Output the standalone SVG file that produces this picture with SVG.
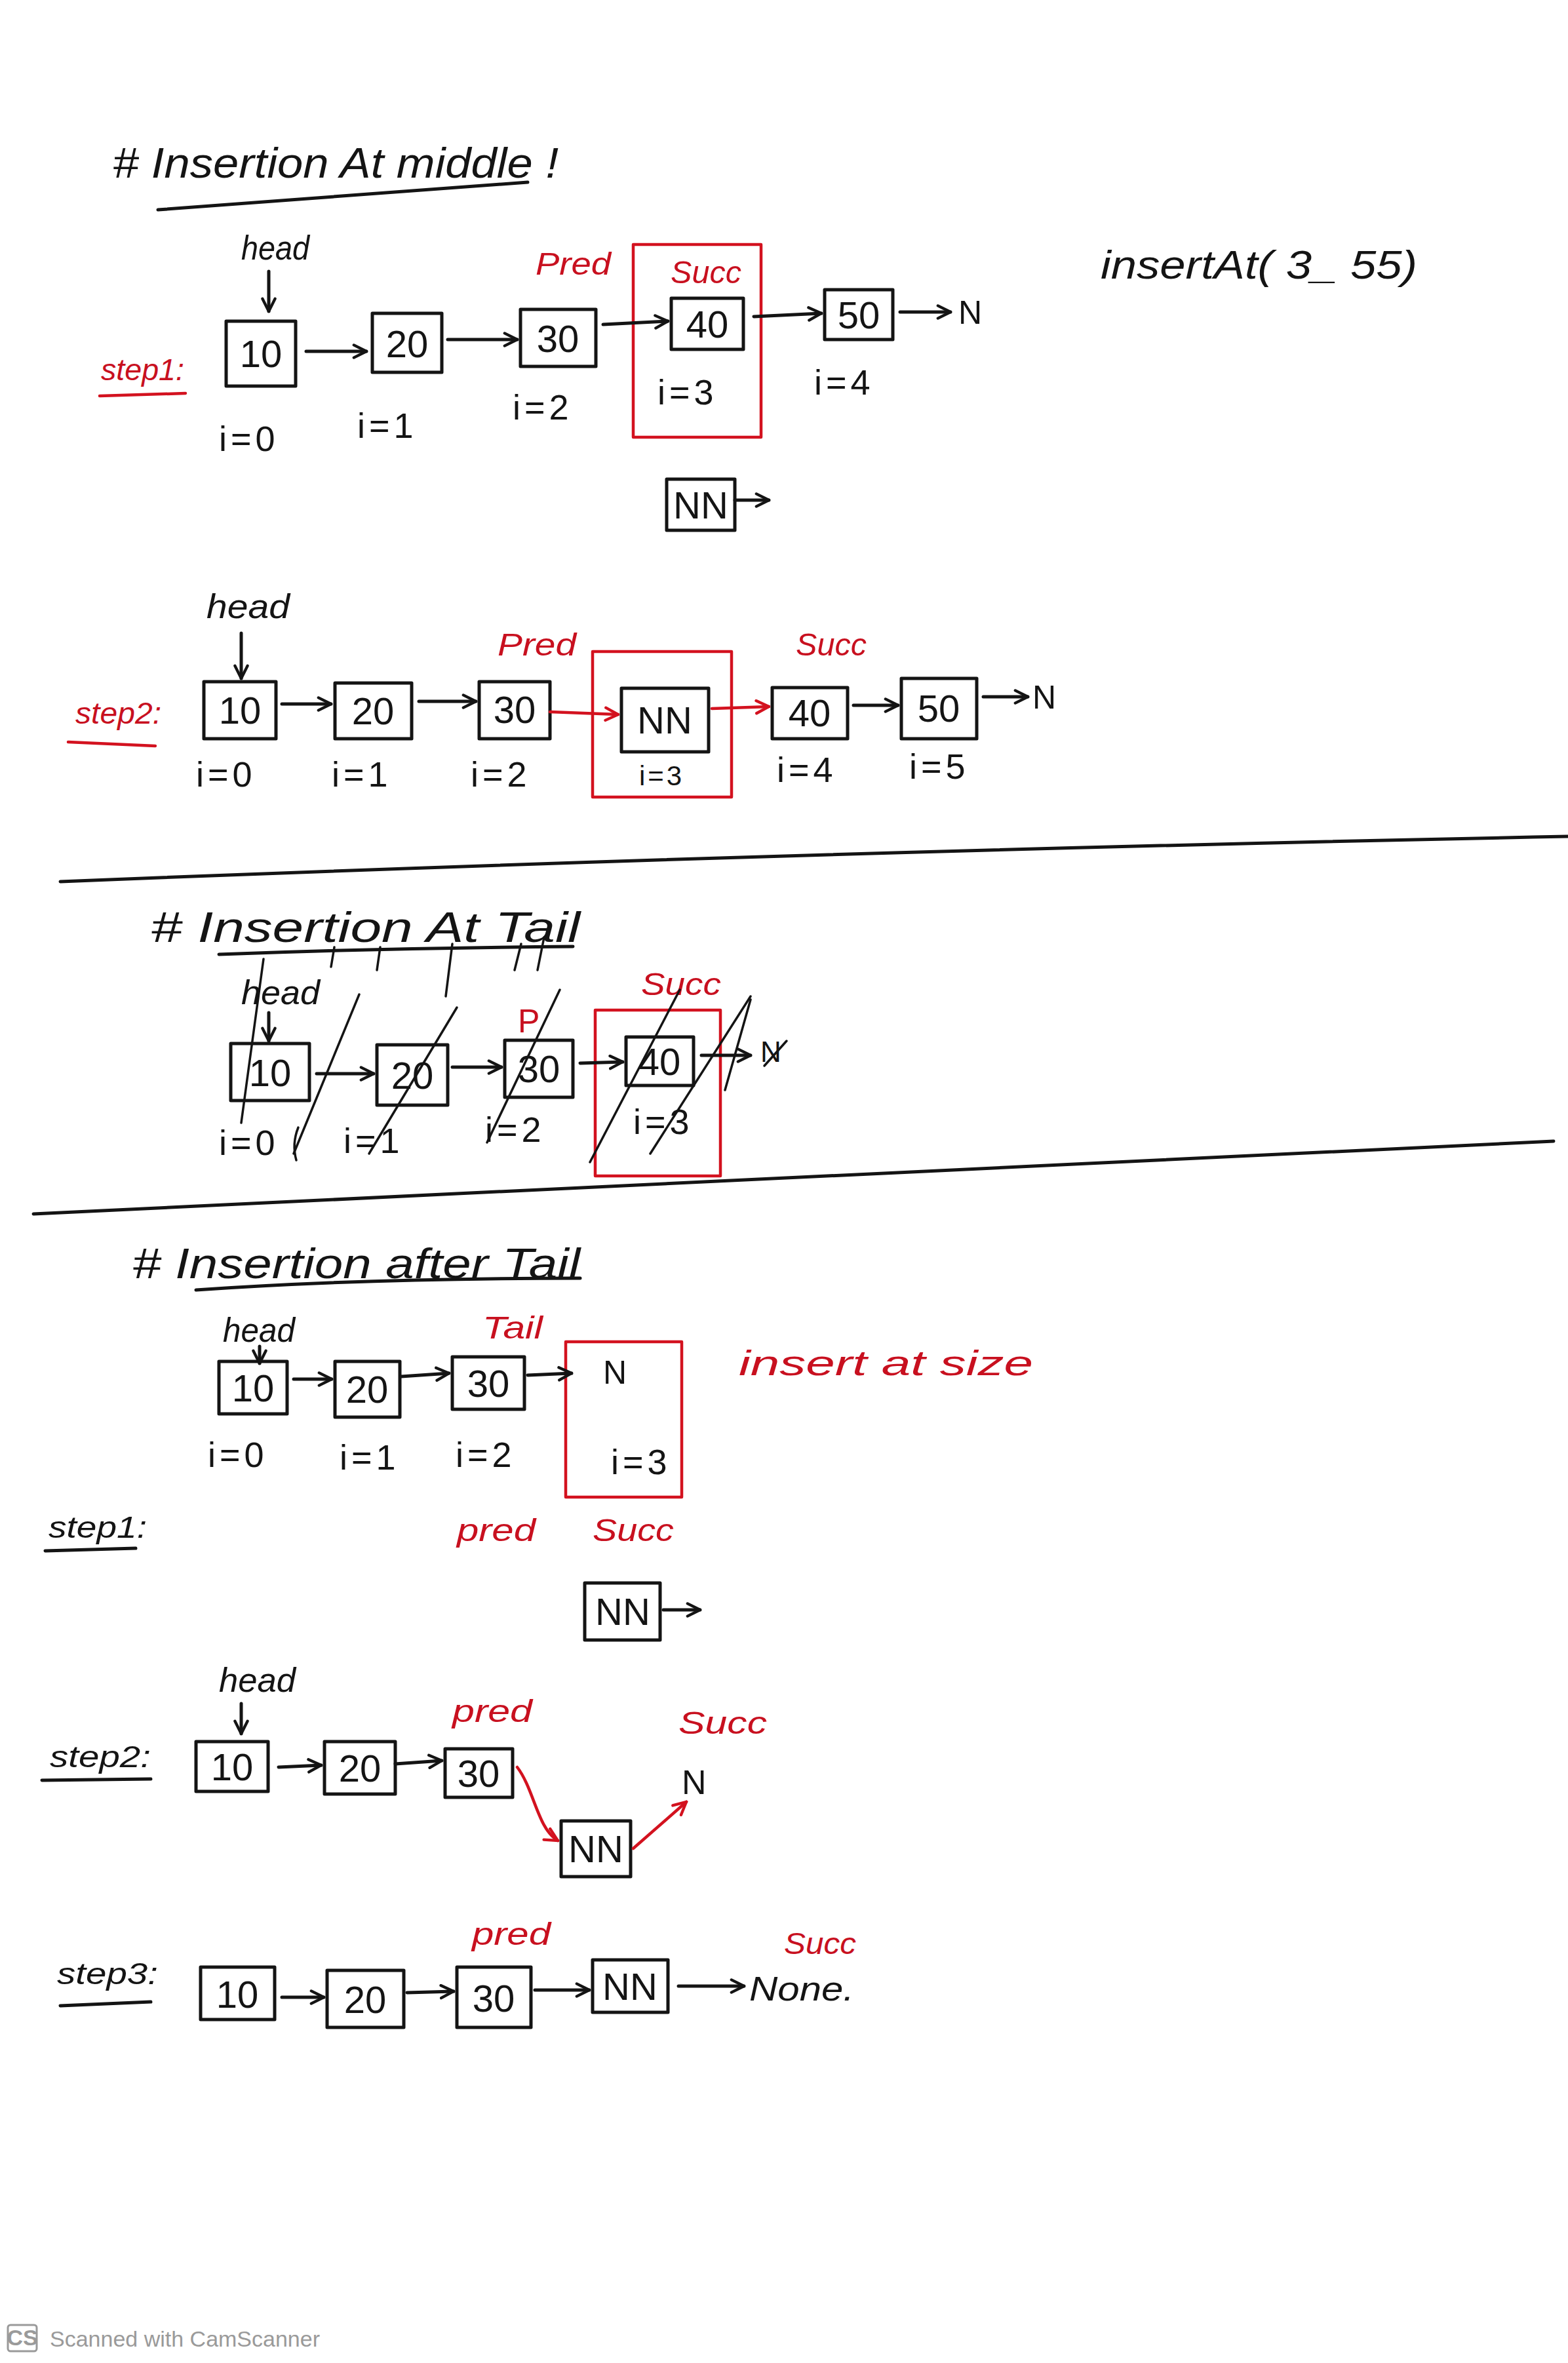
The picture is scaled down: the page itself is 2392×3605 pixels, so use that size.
<svg xmlns="http://www.w3.org/2000/svg" width="2392" height="3605" viewBox="0 0 2392 3605">
<defs>
<style>
.bx{fill:none;stroke:#141414;stroke-width:5;stroke-linejoin:round}
.rbx{fill:none;stroke:#d3121f;stroke-width:4.5;stroke-linejoin:round}
.ln{fill:none;stroke:#141414;stroke-width:5;stroke-linecap:round}
.rl{fill:none;stroke:#d3121f;stroke-width:4.5;stroke-linecap:round}
.sk{fill:none;stroke:#141414;stroke-width:3.5;stroke-linecap:round}
.t{font-family:"Liberation Sans",Arial,sans-serif;fill:#141414}
.r{fill:#c8101f}
.v{font-size:58px;text-anchor:middle}
.h{font-size:52px;font-style:italic}
.i{font-size:54px;letter-spacing:6px}
.ti{font-size:64px;font-style:italic}
.ft{font-family:"Liberation Sans",Arial,sans-serif;fill:#9a9a9a;font-size:34px}
</style>
<marker id="ah" viewBox="0 0 10 10" refX="9" refY="5" markerWidth="24" markerHeight="24" markerUnits="userSpaceOnUse" orient="auto"><path d="M1,1 L9,5 L1,9" fill="none" stroke="#141414" stroke-width="1.8" stroke-linecap="round"/></marker>
<marker id="ar" viewBox="0 0 10 10" refX="9" refY="5" markerWidth="24" markerHeight="24" markerUnits="userSpaceOnUse" orient="auto"><path d="M1,1 L9,5 L1,9" fill="none" stroke="#d3121f" stroke-width="1.8" stroke-linecap="round"/></marker>
</defs>
<rect x="0" y="0" width="2392" height="3605" fill="#ffffff"/>

<!-- ===== Section 1: Insertion At middle ===== -->
<g id="title1">
<text class="t ti" x="172" y="271" textLength="680" lengthAdjust="spacingAndGlyphs"># Insertion At middle !</text>
<path class="ln" d="M241 320 Q520 300 805 278"/>
</g>
<g id="insertAt-label"><text class="t" x="1679" y="425" font-size="62" font-style="italic" textLength="483" lengthAdjust="spacingAndGlyphs">insertAt( 3_ 55)</text></g>

<!-- step 1 -->
<g id="s1-step1"><text class="t r" x="154" y="580" font-size="46" font-style="italic" textLength="127" lengthAdjust="spacingAndGlyphs">step1:</text><path class="rl" d="M152 604 L283 600"/></g>
<g id="s1-head"><text class="t h" x="368" y="396" textLength="104" lengthAdjust="spacingAndGlyphs">head</text></g>
<g id="s1-n10"><rect class="bx" x="345" y="490" width="106" height="99"/><text class="t v" x="398" y="560">10</text></g>
<g id="s1-n20"><rect class="bx" x="568" y="478" width="106" height="90"/><text class="t v" x="621" y="545">20</text></g>
<g id="s1-n30"><rect class="bx" x="794" y="472" width="115" height="87"/><text class="t v" x="851" y="537">30</text></g>
<g id="s1-succbox"><rect class="rbx" x="966" y="373" width="195" height="294"/><text class="t r" x="1023" y="432" font-size="48" font-style="italic" textLength="108" lengthAdjust="spacingAndGlyphs">Succ</text><text class="t i" x="1003" y="617">i=3</text></g>
<g id="s1-n40"><rect class="bx" x="1024" y="455" width="110" height="78"/><text class="t v" x="1079" y="515">40</text></g>
<g id="s1-n50"><rect class="bx" x="1258" y="442" width="104" height="76"/><text class="t v" x="1310" y="501">50</text></g>
<g id="s1-N"><text class="t" x="1462" y="494" font-size="50">N</text></g>
<g id="s1-pred"><text class="t r" x="817" y="419" font-size="48" font-style="italic" textLength="115" lengthAdjust="spacingAndGlyphs">Pred</text></g>
<g id="s1-idx">
<text class="t i" x="334" y="688">i=0</text>
<text class="t i" x="545" y="668">i=1</text>
<text class="t i" x="782" y="640">i=2</text>
<text class="t i" x="1242" y="602">i=4</text>
</g>
<g id="s1-NN"><rect class="bx" x="1017" y="731" width="104" height="78"/><text class="t v" x="1069" y="791">NN</text></g>

<!-- step 2 -->
<g id="s2-step2"><text class="t r" x="115" y="1104" font-size="46" font-style="italic" textLength="131" lengthAdjust="spacingAndGlyphs">step2:</text><path class="rl" d="M104 1132 L237 1138"/></g>
<g id="s2-head"><text class="t h" x="315" y="943" textLength="127" lengthAdjust="spacingAndGlyphs">head</text></g>
<g id="s2-n10"><rect class="bx" x="311" y="1040" width="110" height="87"/><text class="t v" x="366" y="1104">10</text></g>
<g id="s2-n20"><rect class="bx" x="511" y="1042" width="117" height="85"/><text class="t v" x="569" y="1105">20</text></g>
<g id="s2-n30"><rect class="bx" x="731" y="1040" width="108" height="87"/><text class="t v" x="785" y="1103">30</text></g>
<g id="s2-pred"><text class="t r" x="759" y="1000" font-size="48" font-style="italic" textLength="120" lengthAdjust="spacingAndGlyphs">Pred</text></g>
<g id="s2-nnbox"><rect class="rbx" x="904" y="994" width="212" height="222"/><text class="t" x="975" y="1198" font-size="42" letter-spacing="4">i=3</text></g>
<g id="s2-NN"><rect class="bx" x="948" y="1050" width="133" height="97"/><text class="t v" x="1014" y="1119">NN</text></g>
<g id="s2-succ"><text class="t r" x="1214" y="1000" font-size="48" font-style="italic" textLength="108" lengthAdjust="spacingAndGlyphs">Succ</text></g>
<g id="s2-n40"><rect class="bx" x="1178" y="1049" width="115" height="78"/><text class="t v" x="1235" y="1108">40</text></g>
<g id="s2-n50"><rect class="bx" x="1375" y="1035" width="115" height="92"/><text class="t v" x="1432" y="1101">50</text></g>
<g id="s2-N"><text class="t" x="1575" y="1081" font-size="50">N</text></g>
<g id="s2-idx">
<text class="t i" x="299" y="1200">i=0</text>
<text class="t i" x="506" y="1200">i=1</text>
<text class="t i" x="718" y="1200">i=2</text>
<text class="t i" x="1185" y="1193">i=4</text>
<text class="t i" x="1387" y="1188">i=5</text>
</g>

<g id="divider1"><path class="ln" d="M92 1345 Q1200 1300 2392 1276" stroke-width="3.5"/></g>

<!-- ===== Section 2: Insertion At Tail (crossed out) ===== -->
<g id="title2">
<text class="t ti" x="230" y="1437" textLength="655" lengthAdjust="spacingAndGlyphs"># Insertion At Tail</text>
<path class="ln" d="M334 1456 Q600 1446 874 1444"/>
</g>
<g id="t2-head"><text class="t h" x="368" y="1532" textLength="120" lengthAdjust="spacingAndGlyphs">head</text></g>
<g id="t2-n10"><rect class="bx" x="352" y="1592" width="120" height="87"/><text class="t v" x="412" y="1657">10</text></g>
<g id="t2-n20"><rect class="bx" x="575" y="1594" width="108" height="92"/><text class="t v" x="629" y="1661">20</text></g>
<g id="t2-n30"><rect class="bx" x="770" y="1587" width="104" height="87"/><text class="t v" x="822" y="1651">30</text></g>
<g id="t2-p"><text class="t r" x="790" y="1575" font-size="50">P</text></g>
<g id="t2-succbox"><rect class="rbx" x="908" y="1541" width="191" height="253"/><text class="t r" x="978" y="1518" font-size="48" font-style="italic" textLength="122" lengthAdjust="spacingAndGlyphs">Succ</text><text class="t i" x="966" y="1730">i=3</text></g>
<g id="t2-n40"><rect class="bx" x="955" y="1582" width="103" height="74"/><text class="t v" x="1006" y="1640">40</text></g>
<g id="t2-N"><text class="t" x="1160" y="1620" font-size="44">N</text></g>
<g id="t2-idx">
<text class="t i" x="334" y="1762">i=0</text>
<text class="t i" x="524" y="1759">i=1</text>
<text class="t i" x="740" y="1742">i=2</text>
</g>
<g id="t2-strikes">
<path class="sk" d="M402 1463 L368 1713"/>
<path class="sk" d="M548 1517 L448 1760"/>
<path class="sk" d="M455 1720 Q445 1745 452 1770"/>
<path class="sk" d="M697 1537 L563 1760"/>
<path class="sk" d="M854 1510 L743 1743"/>
<path class="sk" d="M1037 1510 L900 1773"/>
<path class="sk" d="M1145 1520 L992 1760"/>
<path class="sk" d="M1145 1525 L1106 1663"/>
<path class="sk" d="M1200 1588 L1166 1626"/>
<path class="sk" d="M510 1445 L505 1475"/>
<path class="sk" d="M580 1445 L575 1480"/>
<path class="sk" d="M690 1440 L680 1520"/>
<path class="sk" d="M795 1440 L785 1480"/>
<path class="sk" d="M830 1430 L820 1480"/>
</g>

<g id="divider2"><path class="ln" d="M51 1852 Q1200 1800 2370 1741" stroke-width="3.5"/></g>

<!-- ===== Section 3: Insertion after Tail ===== -->
<g id="title3">
<text class="t ti" x="202" y="1950" textLength="683" lengthAdjust="spacingAndGlyphs"># Insertion after Tail</text>
<path class="ln" d="M299 1968 Q560 1950 885 1950"/>
</g>
<g id="a-head"><text class="t h" x="340" y="2047" textLength="110" lengthAdjust="spacingAndGlyphs">head</text></g>
<g id="a-n10"><rect class="bx" x="334" y="2077" width="104" height="80"/><text class="t v" x="386" y="2138">10</text></g>
<g id="a-n20"><rect class="bx" x="511" y="2077" width="99" height="85"/><text class="t v" x="560" y="2140">20</text></g>
<g id="a-n30"><rect class="bx" x="690" y="2070" width="110" height="80"/><text class="t v" x="745" y="2131">30</text></g>
<g id="a-tail"><text class="t r" x="736" y="2042" font-size="48" font-style="italic" textLength="92" lengthAdjust="spacingAndGlyphs">Tail</text></g>
<g id="a-nbox"><rect class="rbx" x="863" y="2047" width="177" height="237"/><text class="t" x="920" y="2111" font-size="50">N</text><text class="t i" x="932" y="2249">i=3</text></g>
<g id="a-size"><text class="t r" x="1127" y="2098" font-size="54" font-style="italic" textLength="449" lengthAdjust="spacingAndGlyphs">insert at size</text></g>
<g id="a-idx">
<text class="t i" x="317" y="2238">i=0</text>
<text class="t i" x="518" y="2242">i=1</text>
<text class="t i" x="695" y="2238">i=2</text>
</g>
<g id="a-step1"><text class="t" x="74" y="2346" font-size="46" font-style="italic" textLength="150" lengthAdjust="spacingAndGlyphs">step1:</text><path class="ln" d="M69 2366 L207 2362"/></g>
<g id="a-pred"><text class="t r" x="697" y="2351" font-size="48" font-style="italic" textLength="120" lengthAdjust="spacingAndGlyphs">pred</text></g>
<g id="a-succ"><text class="t r" x="904" y="2351" font-size="48" font-style="italic" textLength="124" lengthAdjust="spacingAndGlyphs">Succ</text></g>
<g id="a-NN"><rect class="bx" x="892" y="2415" width="115" height="87"/><text class="t v" x="950" y="2479">NN</text></g>

<!-- step 2 -->
<g id="b-head"><text class="t h" x="334" y="2581" textLength="117" lengthAdjust="spacingAndGlyphs">head</text></g>
<g id="b-step2"><text class="t" x="76" y="2696" font-size="46" font-style="italic" textLength="154" lengthAdjust="spacingAndGlyphs">step2:</text><path class="ln" d="M64 2716 L230 2714"/></g>
<g id="b-n10"><rect class="bx" x="299" y="2657" width="110" height="76"/><text class="t v" x="354" y="2716">10</text></g>
<g id="b-n20"><rect class="bx" x="495" y="2657" width="108" height="80"/><text class="t v" x="549" y="2718">20</text></g>
<g id="b-n30"><rect class="bx" x="679" y="2668" width="103" height="74"/><text class="t v" x="730" y="2726">30</text></g>
<g id="b-pred"><text class="t r" x="690" y="2627" font-size="48" font-style="italic" textLength="122" lengthAdjust="spacingAndGlyphs">pred</text></g>
<g id="b-succ"><text class="t r" x="1035" y="2645" font-size="48" font-style="italic" textLength="135" lengthAdjust="spacingAndGlyphs">Succ</text></g>
<g id="b-N"><text class="t" x="1040" y="2737" font-size="52">N</text></g>
<g id="b-NN"><rect class="bx" x="856" y="2778" width="106" height="85"/><text class="t v" x="909" y="2841">NN</text></g>

<!-- step 3 -->
<g id="c-step3"><text class="t" x="87" y="3027" font-size="46" font-style="italic" textLength="154" lengthAdjust="spacingAndGlyphs">step3:</text><path class="ln" d="M92 3060 L230 3054"/></g>
<g id="c-n10"><rect class="bx" x="306" y="3001" width="113" height="80"/><text class="t v" x="362" y="3063">10</text></g>
<g id="c-n20"><rect class="bx" x="499" y="3006" width="117" height="87"/><text class="t v" x="557" y="3071">20</text></g>
<g id="c-n30"><rect class="bx" x="697" y="3001" width="113" height="92"/><text class="t v" x="753" y="3069">30</text></g>
<g id="c-NN"><rect class="bx" x="904" y="2990" width="115" height="80"/><text class="t v" x="961" y="3051">NN</text></g>
<g id="c-none"><text class="t" x="1143" y="3052" font-size="52" font-style="italic" textLength="160" lengthAdjust="spacingAndGlyphs">None.</text></g>
<g id="c-pred"><text class="t r" x="720" y="2967" font-size="48" font-style="italic" textLength="120" lengthAdjust="spacingAndGlyphs">pred</text></g>
<g id="c-succ"><text class="t r" x="1196" y="2981" font-size="46" font-style="italic" textLength="110" lengthAdjust="spacingAndGlyphs">Succ</text></g>

<!-- ===== Connectors ===== -->
<g id="connectors">
<path class="ln" d="M410 414 L410 475" marker-end="url(#ah)"/>
<path class="ln" d="M467 536 L559 536" marker-end="url(#ah)"/>
<path class="ln" d="M683 518 L789 518" marker-end="url(#ah)"/>
<path class="ln" d="M920 495 L1019 490" marker-end="url(#ah)"/>
<path class="ln" d="M1150 483 L1253 478" marker-end="url(#ah)"/>
<path class="ln" d="M1373 476 L1450 476" marker-end="url(#ah)"/>
<path class="ln" d="M1121 763 L1173 763" marker-end="url(#ah)"/>
<path class="ln" d="M368 966 L368 1035" marker-end="url(#ah)"/>
<path class="ln" d="M430 1074 L505 1074" marker-end="url(#ah)"/>
<path class="ln" d="M639 1070 L726 1070" marker-end="url(#ah)"/>
<path class="rl" d="M839 1086 L943 1090" marker-end="url(#ar)"/>
<path class="rl" d="M1086 1081 L1173 1078" marker-end="url(#ar)"/>
<path class="ln" d="M1302 1076 L1370 1076" marker-end="url(#ah)"/>
<path class="ln" d="M1500 1063 L1568 1063" marker-end="url(#ah)"/>
<path class="ln" d="M410 1545 L410 1588" marker-end="url(#ah)"/>
<path class="ln" d="M483 1638 L570 1638" marker-end="url(#ah)"/>
<path class="ln" d="M690 1628 L765 1628" marker-end="url(#ah)"/>
<path class="ln" d="M885 1622 L950 1620" marker-end="url(#ah)"/>
<path class="ln" d="M1070 1610 L1145 1610" marker-end="url(#ah)"/>
<path class="ln" d="M396 2054 L396 2080" marker-end="url(#ah)"/>
<path class="ln" d="M448 2104 L506 2104" marker-end="url(#ah)"/>
<path class="ln" d="M612 2100 L685 2095" marker-end="url(#ah)"/>
<path class="ln" d="M805 2098 L872 2095" marker-end="url(#ah)"/>
<path class="ln" d="M1012 2456 L1068 2456" marker-end="url(#ah)"/>
<path class="ln" d="M368 2599 L368 2645" marker-end="url(#ah)"/>
<path class="ln" d="M425 2696 L490 2693" marker-end="url(#ah)"/>
<path class="ln" d="M603 2691 L674 2686" marker-end="url(#ah)"/>
<path class="rl" d="M789 2696 C815 2730 820 2790 851 2808" marker-end="url(#ar)"/>
<path class="rl" d="M966 2820 L1047 2749" marker-end="url(#ar)"/>
<path class="ln" d="M430 3047 L494 3047" marker-end="url(#ah)"/>
<path class="ln" d="M621 3040 L692 3038" marker-end="url(#ah)"/>
<path class="ln" d="M816 3036 L899 3036" marker-end="url(#ah)"/>
<path class="ln" d="M1035 3030 L1135 3030" marker-end="url(#ah)"/>
</g>

<g id="footer">
<rect x="12" y="3547" width="44" height="40" rx="4" fill="none" stroke="#9a9a9a" stroke-width="3"/>
<text class="ft" x="34" y="3578" font-size="26" text-anchor="middle" font-weight="bold">CS</text>
<text class="ft" x="76" y="3580">Scanned with CamScanner</text>
</g>
</svg>
